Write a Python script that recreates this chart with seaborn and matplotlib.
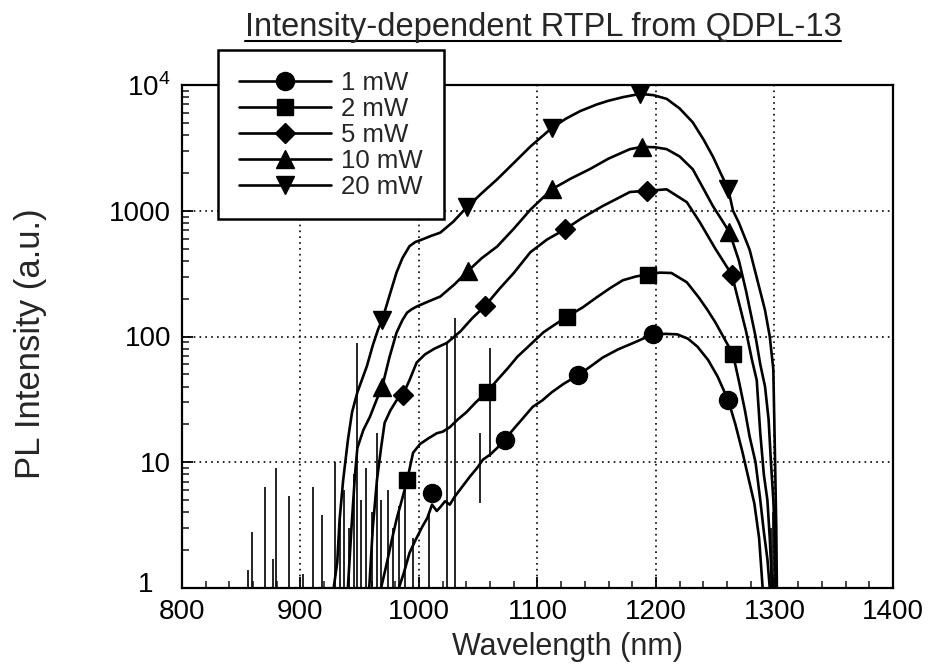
import numpy as np
import pandas as pd
import matplotlib
matplotlib.use("Agg")
import matplotlib.pyplot as plt
from matplotlib.lines import Line2D
import matplotlib.transforms as mtransforms
import seaborn as sns

# ---------------- data ----------------
wl_1mW = [983, 987, 992, 997, 1003, 1007, 1011, 1015, 1018, 1022, 1026, 1030, 1036, 1043, 1049,
          1054, 1060, 1066, 1072, 1079, 1087, 1096, 1104, 1112, 1122, 1134, 1145, 1155, 1168, 1181,
          1190, 1198, 1208, 1218, 1227, 1235, 1244, 1252, 1261, 1267, 1273, 1278, 1283, 1287, 1290]
I_1mW = [1, 1.3, 1.9, 2.4, 3.1, 3.6, 4.6, 4.1, 4.4, 4.9, 4.6, 5.3, 6.3, 7.7, 9.0,
         10.5, 11.5, 13, 15, 18, 22, 27.6, 31, 36, 42, 49, 58, 68, 79, 89,
         97, 103, 105, 104, 96, 83, 65, 48, 31, 20, 12, 7.5, 4.7, 2.5, 1]

wl_2mW = [968, 973, 977, 981, 986, 990, 995, 1001, 1008, 1015, 1020, 1026, 1033, 1040, 1048,
          1057, 1066, 1075, 1083, 1095, 1105, 1115, 1125, 1138, 1150, 1162, 1172, 1183, 1193, 1203,
          1213, 1226, 1236, 1243, 1250, 1258, 1265, 1270, 1275, 1279, 1284, 1288, 1291, 1294, 1296]
I_2mW = [1, 1.6, 2.4, 3.5, 5.2, 7.2, 11.9, 14, 15.5, 17, 17.5, 19, 22, 25, 30,
         36, 45, 56, 69, 88, 108, 125, 144, 170, 205, 245, 280, 300, 312, 322,
         320, 270, 205, 165, 130, 95, 72, 44, 26, 16, 10, 5, 2.8, 1.7, 1]

wl_5mW = [958, 961, 964.5, 968, 971, 976, 981, 986.5, 992, 998, 1005, 1013, 1023.6, 1035, 1045,
          1056, 1068, 1080, 1094, 1108, 1123, 1138, 1155, 1168, 1178, 1192, 1209, 1226, 1237, 1250,
          1264, 1271, 1276, 1281, 1285, 1288, 1291, 1294, 1296, 1298]
I_5mW = [1, 3, 7.2, 13, 20.6, 26, 31, 34.5, 45, 62, 72, 80, 89, 110, 140,
         176, 240, 320, 468, 590, 710, 880, 1090, 1260, 1410, 1440, 1480, 1170, 810, 500,
         310, 170, 110, 65, 45, 17, 8, 5, 2.5, 1]

wl_10mW = [940, 943, 946, 948, 953, 958.6, 964, 969, 975, 981, 986, 990, 994, 998, 1008,
           1018, 1030, 1041, 1053, 1066, 1080, 1094, 1112, 1128, 1144, 1160, 1178, 1188, 1199, 1209,
           1220, 1231, 1240, 1248, 1255, 1262, 1270, 1276, 1284, 1288, 1292, 1295, 1297, 1299, 1300, 1301]
I_10mW = [1, 3, 8, 13, 18, 23, 31, 40, 68, 107, 135, 155, 165, 173, 190,
          208, 260, 330, 420, 520, 720, 1020, 1480, 1800, 2140, 2600, 3090, 3220, 3200, 3090,
          2700, 2140, 1500, 1090, 860, 675, 400, 230, 100, 60, 40, 22, 10, 5, 3, 1]

wl_20mW = [928, 931, 933, 936, 940, 943.5, 948, 952.8, 956, 961, 965.5, 969, 975, 981, 986,
           992, 997, 1002.5, 1010, 1018, 1029, 1040.5, 1053, 1066, 1080, 1094, 1112, 1124, 1136, 1150,
           1160, 1172, 1186.5, 1198, 1209, 1220, 1231, 1240, 1248, 1255, 1261, 1265, 1270, 1279, 1286,
           1292, 1296, 1299, 1300.5, 1301.5, 1302]
I_20mW = [1, 1.6, 3.5, 7.2, 15, 25, 36, 48, 58, 85, 114, 136, 210, 322, 420,
          523, 565, 590, 630, 670, 820, 1070, 1380, 1780, 2400, 3240, 4550, 5400, 6200, 7000,
          7500, 8000, 8500, 8300, 7760, 6500, 5050, 3700, 2700, 1950, 1480, 1000, 800, 490, 270,
          162, 100, 55, 10, 3, 1]

# marker positions
mk_wl_1mW = [1011, 1072.5, 1134, 1197.5, 1261]
mk_I_1mW = [5.7, 15, 49, 104, 31]
mk_wl_2mW = [990, 1057, 1125, 1193, 1265]
mk_I_2mW = [7.2, 36, 144, 310, 72]
mk_wl_5mW = [986.5, 1055.7, 1123, 1192, 1264]
mk_I_5mW = [34.5, 176, 710, 1440, 310]
mk_wl_10mW = [969, 1041, 1112, 1188, 1262]
mk_I_10mW = [40, 330, 1480, 3220, 675]
mk_wl_20mW = [969, 1040.5, 1112, 1186.5, 1261]
mk_I_20mW = [136, 1070, 4550, 8500, 1480]

# noise spikes (wavelength, lower, upper)
spike_wl = [856, 859, 870, 877, 879, 890, 902, 910.5, 918, 929, 933, 937, 941, 945, 947.7,
            951, 955, 960, 964.5, 968, 974, 978, 983, 988, 995, 1008.5, 1024, 1030.5, 1051.5, 1060,
            1297, 1299, 1301]
spike_lo = [1] * 28 + [4.7, 11, 1, 1, 1]
spike_hi = [1.4, 2.8, 6.3, 1.7, 9.0, 5.4, 1.3, 6.3, 3.8, 10, 4, 6, 3, 8, 89,
            5, 9, 4, 17, 5, 6, 3, 4.5, 7, 2.5, 4, 89, 141, 17, 81,
            3, 4, 2]

labels = ["1 mW", "2 mW", "5 mW", "10 mW", "20 mW"]
markers = ["o", "s", "D", "^", "v"]
title = "Intensity-dependent RTPL from QDPL-13"
x_label = "Wavelength (nm)"
y_label = "PL Intensity (a.u.)"
y_ticks = [1, 10, 100, 1000, 10000]
y_ticklabels = ["1", "10", "100", "1000", r"10$^{4}$"]
x_ticks = [800, 900, 1000, 1100, 1200, 1300, 1400]

# ---------------- plotting ----------------
sns.set_theme(style="ticks")
plt.rcParams["font.family"] = ["Liberation Sans", "DejaVu Sans"]
plt.rcParams["mathtext.fontset"] = "custom"
plt.rcParams["mathtext.rm"] = "Liberation Sans"

fig = plt.figure(figsize=(9.29, 6.65), dpi=100)
ax = fig.add_axes([182 / 929, 1 - 588 / 665, (893 - 182) / 929, (588 - 85) / 665])

series = [(wl_1mW, I_1mW, mk_wl_1mW, mk_I_1mW),
          (wl_2mW, I_2mW, mk_wl_2mW, mk_I_2mW),
          (wl_5mW, I_5mW, mk_wl_5mW, mk_I_5mW),
          (wl_10mW, I_10mW, mk_wl_10mW, mk_I_10mW),
          (wl_20mW, I_20mW, mk_wl_20mW, mk_I_20mW)]

msizes = {"o": 13, "s": 12, "D": 10, "^": 13, "v": 13}

ax.vlines(spike_wl, spike_lo, spike_hi, colors="black", linewidth=1.2, zorder=2)

for (wl, I, mwl, mI), lab, m in zip(series, labels, markers):
    df = pd.DataFrame({"wl": wl, "I": I})
    sns.lineplot(data=df, x="wl", y="I", color="black", linewidth=1.9,
                 estimator=None, sort=False, ax=ax, zorder=3)
    ax.plot(mwl, mI, linestyle="none", marker=m, markersize=msizes[m],
            color="black", zorder=4)

ax.set_yscale("log")
ax.set_xlim(800, 1400)
ax.set_ylim(1, 10000)

ax.set_xticks(x_ticks)
ax.set_xticklabels([str(v) for v in x_ticks])
ax.set_xticks(np.arange(800, 1401, 20), minor=True)
ax.set_yticks(y_ticks)
ax.set_yticklabels(y_ticklabels)
ax.yaxis.set_minor_locator(matplotlib.ticker.LogLocator(base=10, subs=np.arange(2, 10)))
ax.yaxis.set_minor_formatter(matplotlib.ticker.NullFormatter())

ax.tick_params(axis="both", which="major", direction="in", length=8, width=1.3,
               labelsize=20, colors="black", pad=8)
ax.tick_params(axis="both", which="minor", direction="in", length=5, width=1.2)
ax.tick_params(top=False, right=False, which="both")

# the "1" label sits up-left of the corner in the reference
lab1 = ax.get_yticklabels()[0]
lab1.set_transform(lab1.get_transform() +
                   mtransforms.ScaledTranslation(-18 / 100, 6 / 100, fig.dpi_scale_trans))

for s in ax.spines.values():
    s.set_linewidth(1.6)
    s.set_color("black")

ax.grid(True, which="major", color="black", linestyle=(0, (1, 2.5)), linewidth=1.2)
ax.set_xlabel(x_label, fontsize=22)
ax.xaxis.set_label_coords((568 - 182) / 711, -0.088)
ax.set_ylabel(y_label, fontsize=25)
ax.yaxis.set_label_coords(-0.19, (588 - 344) / 503)

handles = [Line2D([], [], color="black", linewidth=1.9, marker=m, markersize=msizes[m])
           for m in markers]
leg = ax.legend(handles, labels, loc="upper left", bbox_to_anchor=(218 / 929, 1 - 50 / 665),
                bbox_transform=fig.transFigure, borderaxespad=0, frameon=True, fancybox=False,
                fontsize=18.5, handlelength=3.6, handletextpad=0.4, labelspacing=0.08,
                borderpad=0.8)
leg.get_frame().set_edgecolor("black")
leg.get_frame().set_linewidth(1.8)
leg.get_frame().set_alpha(1)
leg.set_zorder(10)

t = fig.text(543 / 929, 1 - 36 / 665, title, ha="center", va="baseline", fontsize=23.5)
fig.canvas.draw()
bb = t.get_window_extent().transformed(fig.transFigure.inverted())
fig.add_artist(Line2D([bb.x0, bb.x1], [1 - 41 / 665] * 2, color="black", linewidth=1.5,
                      transform=fig.transFigure))

fig.savefig("out.png", dpi=100)
